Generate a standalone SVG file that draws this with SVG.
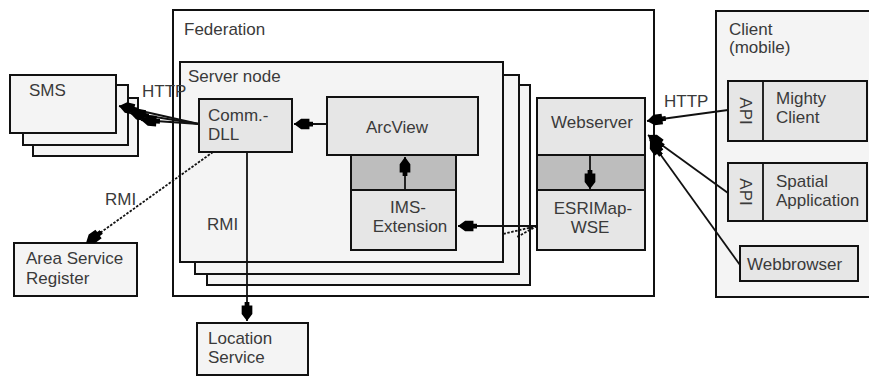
<svg xmlns="http://www.w3.org/2000/svg" width="869" height="376" viewBox="0 0 869 376">
<defs>
<style>
.box{stroke:#111;stroke-width:2}
.lt{fill:#f4f4f4}
.md{fill:#e6e6e6}
.dk{fill:#bdbdbd}
.wh{fill:#fff}
text{font-family:"Liberation Sans",Arial,sans-serif;font-size:17px;fill:#3a3a3a}
.c{text-anchor:middle}
.ln{fill:none;stroke:#111;stroke-width:1.8}
.ds{fill:none;stroke:#111;stroke-width:1.8;stroke-dasharray:2.5 1.5}
</style>
<marker id="ah" viewBox="0 0 16 10" refX="16" refY="5" markerWidth="19" markerHeight="12" markerUnits="userSpaceOnUse" orient="auto">
<path d="M0,3 L3,3 L3,0.5 L10,0.5 L16,5 L10,9.5 L3,9.5 L3,7 L0,7 Z" fill="#000"/>
</marker>
</defs>

<g id="federation">
<rect class="box wh" x="173" y="10" width="481" height="286"/>
<text x="184" y="35">Federation</text>
</g>

<g id="client">
<rect class="box lt" x="716" y="11" width="170" height="286"/>
<text x="729" y="35">Client</text>
<text x="729" y="53">(mobile)</text>
</g>

<g id="sms">
<rect class="box lt" x="33" y="98" width="105" height="58"/>
<rect class="box lt" x="23" y="85" width="105" height="60"/>
<rect class="box lt" x="10" y="75" width="106" height="58"/>
<text x="29" y="96">SMS</text>
</g>

<g id="server-node">
<rect class="box lt" x="207" y="85" width="323" height="200"/>
<rect class="box lt" x="195" y="75" width="324" height="199"/>
<rect class="box lt" x="180" y="62" width="323" height="200"/>
<text x="188" y="82">Server node</text>
<text x="207" y="230">RMI</text>
</g>

<g id="comm-dll">
<rect class="box md" x="199" y="99" width="93" height="53"/>
<text x="208" y="121">Comm.-</text>
<text x="208" y="140">DLL</text>
</g>

<g id="arcview">
<rect class="box md" x="327" y="97" width="151" height="58"/>
<text class="c" x="397" y="133">ArcView</text>
</g>

<g id="ims-extension">
<rect class="box dk" x="351" y="155" width="105" height="35"/>
<rect class="box md" x="351" y="190" width="105" height="60"/>
<text class="c" x="408" y="213">IMS-</text>
<text class="c" x="410" y="232">Extension</text>
</g>

<g id="webserver">
<rect class="box md" x="537" y="98" width="108" height="57"/>
<text class="c" x="592" y="128">Webserver</text>
</g>

<g id="esrimap-wse">
<rect class="box dk" x="537" y="155" width="108" height="35"/>
<rect class="box md" x="537" y="190" width="108" height="60"/>
<text class="c" x="593" y="214">ESRIMap-</text>
<text class="c" x="590" y="233">WSE</text>
</g>

<g id="mighty-client">
<rect class="box md" x="728" y="81" width="139" height="60"/>
<line class="ln" x1="763" y1="81" x2="763" y2="141"/>
<text class="c" transform="translate(740,111) rotate(90)">API</text>
<text x="776" y="104">Mighty</text>
<text x="776" y="123">Client</text>
</g>

<g id="spatial-application">
<rect class="box md" x="728" y="163" width="139" height="58"/>
<line class="ln" x1="763" y1="163" x2="763" y2="221"/>
<text class="c" transform="translate(740,192) rotate(90)">API</text>
<text x="776" y="187">Spatial</text>
<text x="776" y="206">Application</text>
</g>

<g id="webbrowser">
<rect class="box md" x="740" y="246" width="118" height="35"/>
<text x="747" y="270">Webbrowser</text>
</g>

<g id="area-service-register">
<rect class="box lt" x="14" y="243" width="123" height="53"/>
<text x="26" y="264">Area Service</text>
<text x="26" y="284">Register</text>
</g>

<g id="location-service">
<rect class="box lt" x="197" y="323" width="111" height="52"/>
<text x="208" y="344">Location</text>
<text x="208" y="363">Service</text>
</g>

<g id="connectors">
<path class="ln" d="M199,124 L119,106" marker-end="url(#ah)"/>
<path class="ln" d="M199,124 L130,113" marker-end="url(#ah)"/>
<path class="ln" d="M199,124 L141,120" marker-end="url(#ah)"/>
<text x="142" y="97">HTTP</text>
<path class="ln" d="M327,124 L294,124" marker-end="url(#ah)"/>
<path class="ln" d="M405,190 L405,157" marker-end="url(#ah)"/>
<path class="ln" d="M590,155 L590,189" marker-end="url(#ah)"/>
<path class="ln" d="M537,226 L458,226" marker-end="url(#ah)"/>
<path class="ds" d="M537,226 L503,234"/>
<path class="ds" d="M537,226 L517,237"/>
<path class="ln" d="M728,110 L647,121" marker-end="url(#ah)"/>
<text x="664" y="107">HTTP</text>
<path class="ln" d="M728,193 L648,135" marker-end="url(#ah)"/>
<path class="ln" d="M740,265 L650,140" marker-end="url(#ah)"/>
<path class="ds" d="M213,152 L86,243" marker-end="url(#ah)"/>
<text x="105" y="205">RMI</text>
<path class="ln" d="M247,152 L247,321" marker-end="url(#ah)"/>
</g>
</svg>
